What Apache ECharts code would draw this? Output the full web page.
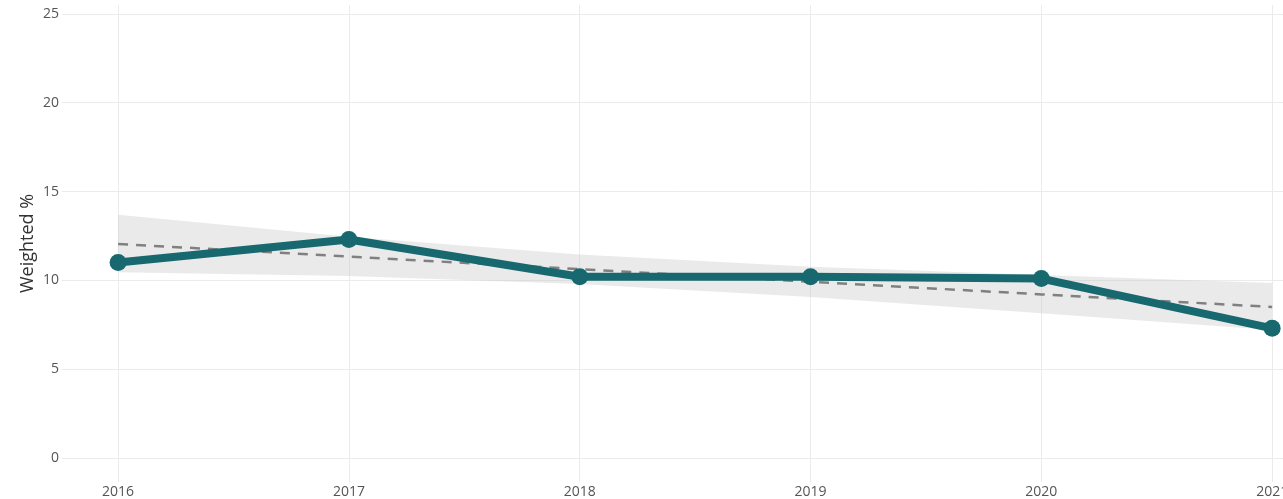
<!DOCTYPE html>
<html>
<head>
<meta charset="utf-8">
<script src="https://cdn.jsdelivr.net/npm/echarts@6/dist/echarts.min.js"></script>
<style>
  html, body { margin: 0; padding: 0; background: #fff; }
  #chart { width: 1283px; height: 499px; }
</style>
</head>
<body>
<div id="chart"></div>
<script>
var years = [2016, 2017, 2018, 2019, 2020, 2021];
var weighted = [11.0, 12.3, 10.2, 10.2, 10.1, 7.3];
var trend = [12.05, 11.34, 10.63, 9.92, 9.21, 8.5];
var bandLower = [10.45, 10.25, 9.8, 9.07, 8.15, 7.2];
var bandUpper = [13.7, 12.45, 11.45, 10.77, 10.3, 9.85];
var yTicks = [0, 5, 10, 15, 20, 25];

function pairs(vals) {
  return years.map(function (y, i) { return [y, vals[i]]; });
}

// band rows: [year, lower, upper]
var bandRows = years.map(function (y, i) { return [y, bandLower[i], bandUpper[i]]; });

var gridColor = '#ebebeb';
var teal = '#17686f';

function renderBand(params, api) {
  if (params.dataIndex !== 0) return;
  var top = [], bottom = [];
  for (var i = 0; i < bandRows.length; i++) {
    top.push(api.coord([bandRows[i][0], bandRows[i][2]]));
    bottom.unshift(api.coord([bandRows[i][0], bandRows[i][1]]));
  }
  return {
    type: 'polygon',
    shape: { points: top.concat(bottom) },
    style: { fill: 'rgba(200,200,200,0.38)' },
    silent: true
  };
}

var option = {
  animation: false,
  grid: { left: 62, right: 0, top: 5, bottom: 17, outerBoundsMode: 'none' },
  xAxis: {
    type: 'value',
    min: 2015.757,
    max: 2021.047,
    axisLine: { show: false },
    axisTick: { show: false, customValues: years },
    axisLabel: {
      customValues: years,
      color: '#555',
      fontSize: 14,
      fontFamily: 'Open Sans',
      margin: 3,
      formatter: function (v) { return String(v); }
    },
    splitLine: { show: true, lineStyle: { color: gridColor, width: 1 } }
  },
  yAxis: {
    type: 'value',
    min: -1.35,
    max: 25.5,
    name: 'Weighted %',
    nameLocation: 'middle',
    nameGap: 25,
    nameMoveOverlap: false,
    nameTextStyle: { color: '#333', fontSize: 18, fontFamily: 'Open Sans' },
    axisLine: { show: false },
    axisTick: { show: false, customValues: yTicks },
    axisLabel: {
      customValues: yTicks,
      color: '#555',
      fontSize: 14,
      fontFamily: 'Open Sans',
      margin: 3
    },
    splitLine: { show: true, lineStyle: { color: gridColor, width: 1 } }
  },
  series: [
    {
      name: 'band',
      type: 'custom',
      data: bandRows,
      renderItem: renderBand,
      encode: { x: 0, y: [1, 2] },
      silent: true,
      z: 1
    },
    {
      name: 'trend',
      type: 'line',
      data: pairs(trend),
      symbol: 'none',
      z: 3,
      lineStyle: { color: '#808080', width: 2.5, type: [10, 8] }
    },
    {
      name: 'Weighted %',
      type: 'line',
      data: pairs(weighted),
      symbol: 'circle',
      symbolSize: 17,
      z: 4,
      itemStyle: { color: teal },
      lineStyle: { color: teal, width: 8 }
    }
  ]
};

var myChart = echarts.init(document.getElementById('chart'));
myChart.setOption(option);
</script>
</body>
</html>
